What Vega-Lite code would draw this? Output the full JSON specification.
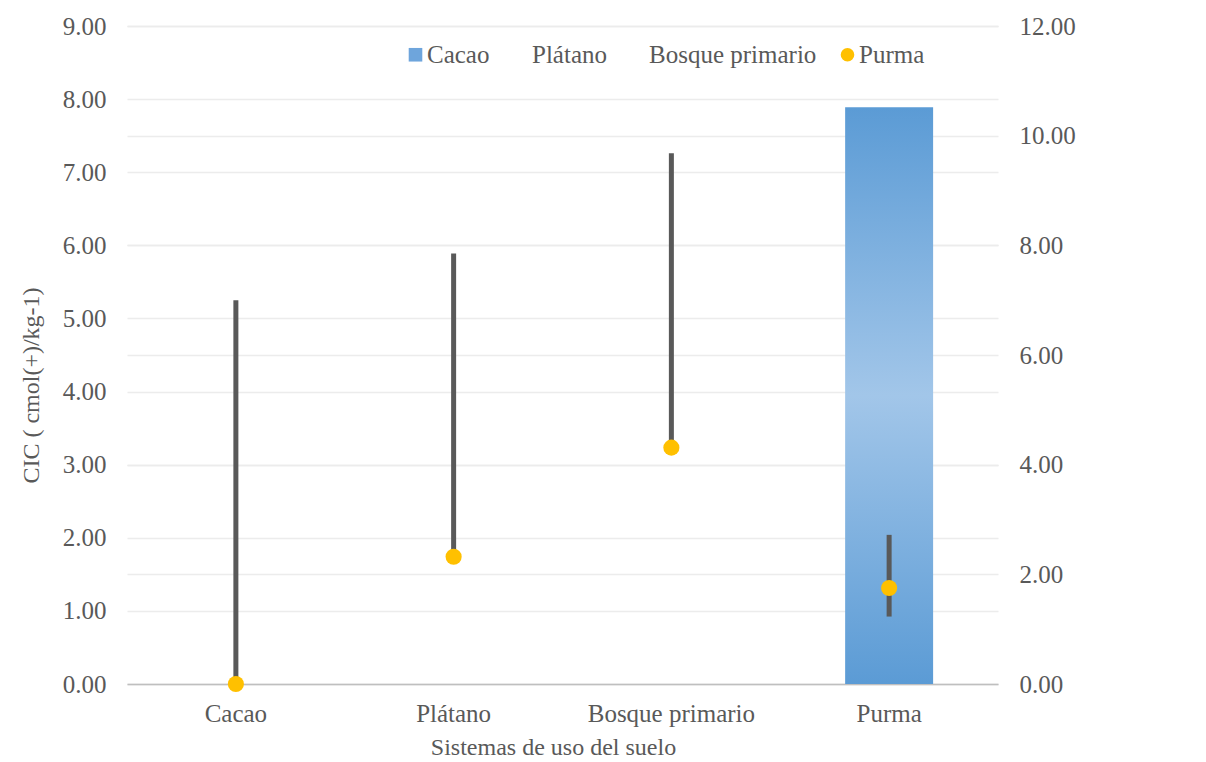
{
  "$schema": "https://vega.github.io/schema/vega-lite/v6.json",
  "width": 871,
  "height": 658,
  "autosize": "none",
  "padding": {"left": 127, "top": 26, "right": 208, "bottom": 78},
  "background": "white",
  "config": {
    "font": "Liberation Serif",
    "view": {"stroke": null},
    "axis": {
      "labelFont": "Liberation Serif",
      "labelFontSize": 25,
      "labelColor": "#595959",
      "titleFont": "Liberation Serif",
      "titleFontSize": 24,
      "titleColor": "#595959",
      "titleFontWeight": "normal",
      "ticks": false,
      "domain": false,
      "gridColor": "#ececec",
      "gridWidth": 1.5
    },
    "legend": {
      "labelFont": "Liberation Serif",
      "labelFontSize": 25,
      "labelColor": "#595959",
      "labelLimit": 400
    }
  },
  "layer": [
    {
      "data": {"values": [{"sistema": "Purma", "serie": "Cacao", "valor": 7.89}]},
      "mark": {
        "type": "bar",
        "color": {
          "gradient": "linear",
          "x1": 0, "y1": 0, "x2": 0, "y2": 1,
          "stops": [
            {"offset": 0, "color": "#5b9bd5"},
            {"offset": 0.5, "color": "#a2c6e9"},
            {"offset": 1, "color": "#5b9bd5"}
          ]
        }
      },
      "encoding": {
        "x": {
          "field": "sistema",
          "type": "nominal",
          "sort": ["Cacao", "Plátano", "Bosque primario", "Purma"],
          "scale": {"domain": ["Cacao", "Plátano", "Bosque primario", "Purma"], "paddingInner": 0.596, "paddingOuter": 0.298},
          "axis": {
            "title": "Sistemas de uso del suelo",
            "labelAngle": 0,
            "domain": true,
            "domainColor": "#bfbfbf",
            "domainWidth": 1.5,
            "labelPadding": 17,
            "titlePadding": 9,
            "titleX": 426,
            "grid": false
          }
        },
        "y": {
          "field": "valor",
          "type": "quantitative",
          "scale": {"domain": [0, 9], "nice": false},
          "axis": {
            "orient": "left",
            "values": [0, 1, 2, 3, 4, 5, 6, 7, 8, 9],
            "format": ".2f",
            "title": "CIC ( cmol(+)/kg-1)",
            "grid": true,
            "labelPadding": 21,
            "titlePadding": 19,
            "titleY": 359
          }
        }
      }
    },
    {
      "layer": [
        {
          "data": {
            "values": [
              {"sistema": "Cacao", "desde": 0, "hasta": 7.0},
              {"sistema": "Plátano", "desde": 2.32, "hasta": 7.85},
              {"sistema": "Bosque primario", "desde": 4.31, "hasta": 9.68},
              {"sistema": "Purma", "desde": 1.23, "hasta": 2.72}
            ]
          },
          "mark": {"type": "rule", "strokeWidth": 5, "color": "#595959"},
          "encoding": {
            "x": {
              "field": "sistema",
              "type": "nominal",
              "sort": ["Cacao", "Plátano", "Bosque primario", "Purma"],
              "scale": {"domain": ["Cacao", "Plátano", "Bosque primario", "Purma"], "paddingInner": 0.596, "paddingOuter": 0.298}
            },
            "y": {
              "field": "desde",
              "type": "quantitative",
              "scale": {"domain": [0, 12], "nice": false},
              "axis": {
                "orient": "right",
                "values": [0, 2, 4, 6, 8, 10, 12],
                "format": ".2f",
                "title": null,
                "grid": true,
                "labelPadding": 21
              }
            },
            "y2": {"field": "hasta"}
          }
        },
        {
          "data": {
            "values": [
              {"sistema": "Cacao", "serie": "Purma", "valor": 0},
              {"sistema": "Plátano", "serie": "Purma", "valor": 2.32},
              {"sistema": "Bosque primario", "serie": "Purma", "valor": 4.31},
              {"sistema": "Purma", "serie": "Purma", "valor": 1.75}
            ]
          },
          "mark": {"type": "point", "filled": true, "size": 260, "opacity": 1},
          "encoding": {
            "x": {
              "field": "sistema",
              "type": "nominal",
              "sort": ["Cacao", "Plátano", "Bosque primario", "Purma"],
              "scale": {"domain": ["Cacao", "Plátano", "Bosque primario", "Purma"], "paddingInner": 0.596, "paddingOuter": 0.298}
            },
            "y": {"field": "valor", "type": "quantitative"},
            "color": {
              "field": "serie",
              "type": "nominal",
              "scale": {
                "domain": ["Cacao", "Plátano", "Bosque primario", "Purma"],
                "range": ["#6ea5dc", "transparent", "transparent", "#ffc000"]
              },
              "legend": {
                "title": null,
                "orient": "none",
                "legendX": 276,
                "legendY": 16,
                "direction": "horizontal",
                "symbolSize": 185,
                "symbolStrokeWidth": 0,
                "symbolOpacity": 1,
                "labelOffset": -1,
                "columnPadding": 18,
                "padding": 0
              }
            },
            "shape": {
              "field": "serie",
              "type": "nominal",
              "scale": {
                "domain": ["Cacao", "Plátano", "Bosque primario", "Purma"],
                "range": ["square", "square", "square", "circle"]
              },
              "legend": {
                "title": null,
                "orient": "none",
                "legendX": 276,
                "legendY": 16,
                "direction": "horizontal",
                "symbolSize": 185,
                "symbolStrokeWidth": 0,
                "symbolOpacity": 1,
                "labelOffset": -1,
                "columnPadding": 18,
                "padding": 0
              }
            }
          }
        }
      ]
    }
  ],
  "resolve": {"scale": {"y": "independent"}}
}
